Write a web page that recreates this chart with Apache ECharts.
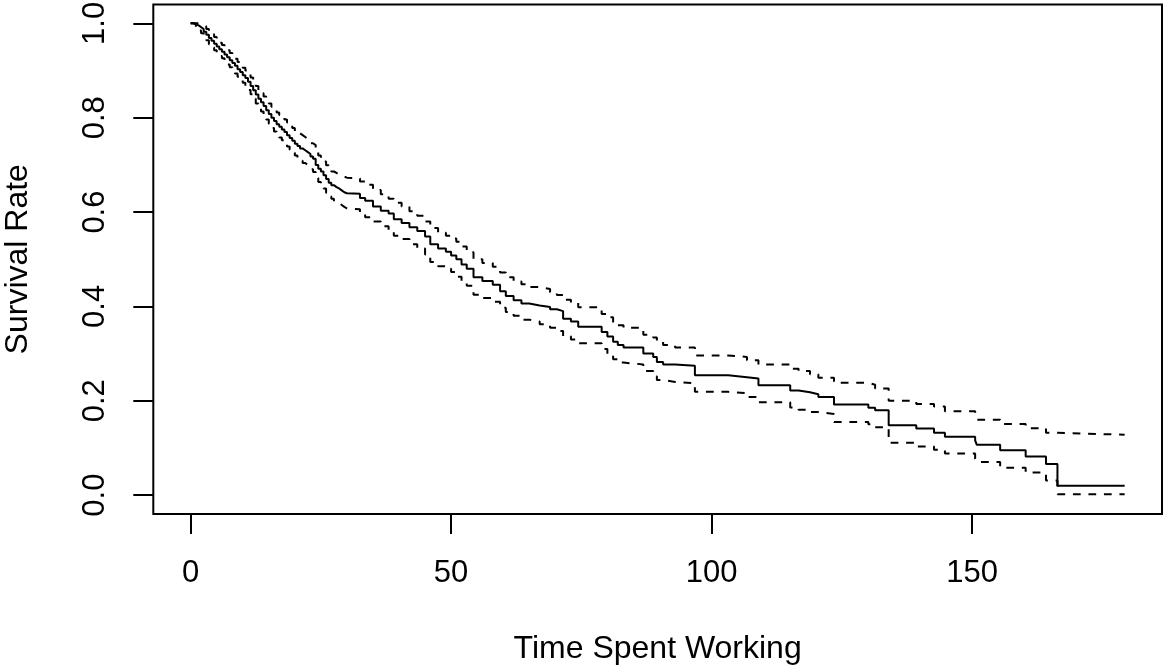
<!DOCTYPE html>
<html><head><meta charset="utf-8">
<script src="https://cdn.jsdelivr.net/npm/echarts@6/dist/echarts.min.js"></script>
<style>html,body{margin:0;padding:0;background:#fff}#c{width:1163px;height:669px}</style>
</head><body><div id="c"></div>
<script>
// Kaplan-Meier step times (values hold from each time to the next)
const times = [0,0.5,1,1.5,2,2.5,3,3.5,4,4.5,5,5.5,6,6.5,7,7.5,8,8.5,9,9.5,
  10,10.5,11,11.5,12,12.5,13,13.5,14,14.5,15,15.5,16,16.5,17,17.5,18,18.5,19,19.5,
  20,20.5,21,21.5,22,22.5,23,23.5,24,24.5,25,25.5,26,26.5,27,27.5,28,28.5,29,29.5,30,
  32.5,33.5,35,36.5,38,39,40.5,42,43.5,45,
  46,47.5,49,50,51,52,53,54.3,56,58,
  59.4,60.5,62,63.5,65,67,69,70.3,71.5,73,
  74.4,78.9,80,81.1,82,83.1,86.9,88.8,89.5,90.7,
  93,96.8,103.2,106.8,109,115.1,116.7,118.9,120.5,123.5,
  130.1,131.4,134,139.3,142.7,144.8,150.6,150.9,155.4,160.3,
  164.2,166.4,179.3];
const survival = [1.000,0.999,0.996,0.992,0.988,0.982,0.976,0.969,0.963,0.957,0.951,0.945,0.940,0.934,0.928,0.922,0.916,0.910,0.903,0.897,
  0.890,0.884,0.876,0.867,0.858,0.849,0.840,0.833,0.825,0.816,0.808,0.800,0.793,0.786,0.781,0.775,0.770,0.763,0.757,0.751,
  0.745,0.740,0.735,0.731,0.727,0.723,0.718,0.713,0.700,0.692,0.686,0.678,0.670,0.662,0.657,0.653,0.650,0.646,0.642,0.640,0.639,
  0.630,0.624,0.612,0.603,0.597,0.585,0.577,0.568,0.560,0.548,
  0.532,0.523,0.516,0.508,0.500,0.489,0.480,0.462,0.454,0.446,
  0.432,0.422,0.413,0.406,0.402,0.399,0.394,0.390,0.374,0.368,
  0.357,0.346,0.336,0.325,0.318,0.313,0.300,0.293,0.282,0.277,
  0.274,0.254,0.250,0.247,0.233,0.222,0.218,0.214,0.208,0.192,
  0.185,0.180,0.148,0.141,0.132,0.124,0.116,0.107,0.095,0.082,
  0.066,0.020,0.020];
const upperCI = [1.000,1.000,1.000,0.999,0.997,0.993,0.988,0.982,0.977,0.971,0.965,0.959,0.954,0.948,0.943,0.937,0.931,0.925,0.918,0.912,
  0.906,0.900,0.893,0.885,0.876,0.867,0.859,0.852,0.845,0.837,0.830,0.823,0.817,0.811,0.806,0.801,0.796,0.790,0.784,0.778,
  0.772,0.767,0.763,0.759,0.755,0.751,0.746,0.742,0.728,0.720,0.714,0.707,0.699,0.691,0.686,0.683,0.680,0.677,0.675,0.673,0.671,
  0.665,0.658,0.647,0.638,0.628,0.620,0.612,0.602,0.592,0.580,
  0.566,0.556,0.550,0.544,0.537,0.527,0.515,0.500,0.492,0.484,
  0.472,0.462,0.453,0.447,0.441,0.437,0.430,0.424,0.414,0.408,
  0.398,0.384,0.377,0.367,0.360,0.355,0.340,0.334,0.325,0.318,
  0.313,0.296,0.293,0.286,0.277,0.268,0.263,0.256,0.249,0.238,
  0.234,0.226,0.200,0.193,0.188,0.178,0.168,0.160,0.151,0.142,
  0.132,0.128,0.128];
const lowerCI = [1.000,0.998,0.992,0.985,0.979,0.971,0.964,0.956,0.949,0.943,0.937,0.931,0.926,0.920,0.913,0.907,0.901,0.894,0.887,0.881,
  0.874,0.867,0.859,0.850,0.840,0.830,0.821,0.813,0.805,0.796,0.787,0.778,0.771,0.764,0.758,0.752,0.746,0.739,0.732,0.726,
  0.720,0.714,0.709,0.704,0.700,0.696,0.691,0.685,0.672,0.664,0.658,0.650,0.641,0.633,0.628,0.623,0.619,0.615,0.611,0.608,0.606,
  0.598,0.589,0.580,0.570,0.562,0.550,0.543,0.532,0.523,0.510,
  0.494,0.485,0.480,0.473,0.463,0.452,0.444,0.425,0.418,0.410,
  0.397,0.388,0.380,0.372,0.368,0.362,0.355,0.348,0.337,0.330,
  0.322,0.310,0.298,0.288,0.281,0.277,0.263,0.252,0.244,0.240,
  0.237,0.219,0.216,0.208,0.197,0.186,0.181,0.176,0.172,0.155,
  0.150,0.144,0.111,0.103,0.096,0.088,0.077,0.070,0.058,0.048,
  0.031,0.002,0.002];
const xTicks = [0, 50, 100, 150];
const yTicks = [0.0, 0.2, 0.4, 0.6, 0.8, 1.0];
const xTitle = 'Time Spent Working';
const yTitle = 'Survival Rate';

const xMax = times[times.length - 1];
const FONT = '"Liberation Sans", Arial, Helvetica, sans-serif';
const tickTxt = {color: '#000', fontSize: 31, fontFamily: FONT};
const nameTxt = {color: '#000', fontSize: 32, fontFamily: FONT};
const toPairs = ys => times.map((t, i) => [t, ys[i]]);

const chart = echarts.init(document.getElementById('c'), null, {renderer: 'canvas'});
chart.setOption({
  animation: false,
  backgroundColor: '#fff',
  grid: {left: 153.3, top: 4.5, width: 1008.7, height: 509.5, show: true,
    borderColor: '#000', borderWidth: 2, backgroundColor: 'transparent',
    containLabel: false, outerBoundsMode: 'none'},
  xAxis: {
    type: 'value', min: -0.04 * xMax, max: 1.04 * xMax,
    axisLine: {show: false, onZero: false}, splitLine: {show: false},
    axisTick: {show: true, inside: false, length: 20, lineStyle: {color: '#000', width: 2}, customValues: xTicks},
    axisLabel: Object.assign({customValues: xTicks, margin: 44, formatter: v => String(v)}, tickTxt),
    name: xTitle, nameLocation: 'middle', nameGap: 119, nameTextStyle: nameTxt
  },
  yAxis: {
    type: 'value', min: -0.04, max: 1.04,
    axisLine: {show: false, onZero: false}, splitLine: {show: false},
    axisTick: {show: true, inside: false, length: 20, lineStyle: {color: '#000', width: 2}, customValues: yTicks},
    axisLabel: Object.assign({customValues: yTicks, rotate: 90, margin: 42, formatter: v => v.toFixed(1)}, tickTxt),
    name: yTitle, nameLocation: 'middle', nameGap: 119, nameRotate: 90, nameTextStyle: nameTxt
  },
  series: [
    {type: 'line', data: toPairs(survival), step: 'end', symbol: 'none', silent: true,
      lineStyle: {color: '#000', width: 2, type: 'solid'}},
    {type: 'line', data: toPairs(upperCI), step: 'end', symbol: 'none', silent: true,
      lineStyle: {color: '#000', width: 2, type: [7.75, 7.75], cap: 'butt'}},
    {type: 'line', data: toPairs(lowerCI), step: 'end', symbol: 'none', silent: true,
      lineStyle: {color: '#000', width: 2, type: [7.75, 7.75], cap: 'butt'}}
  ]
});
</script></body></html>
